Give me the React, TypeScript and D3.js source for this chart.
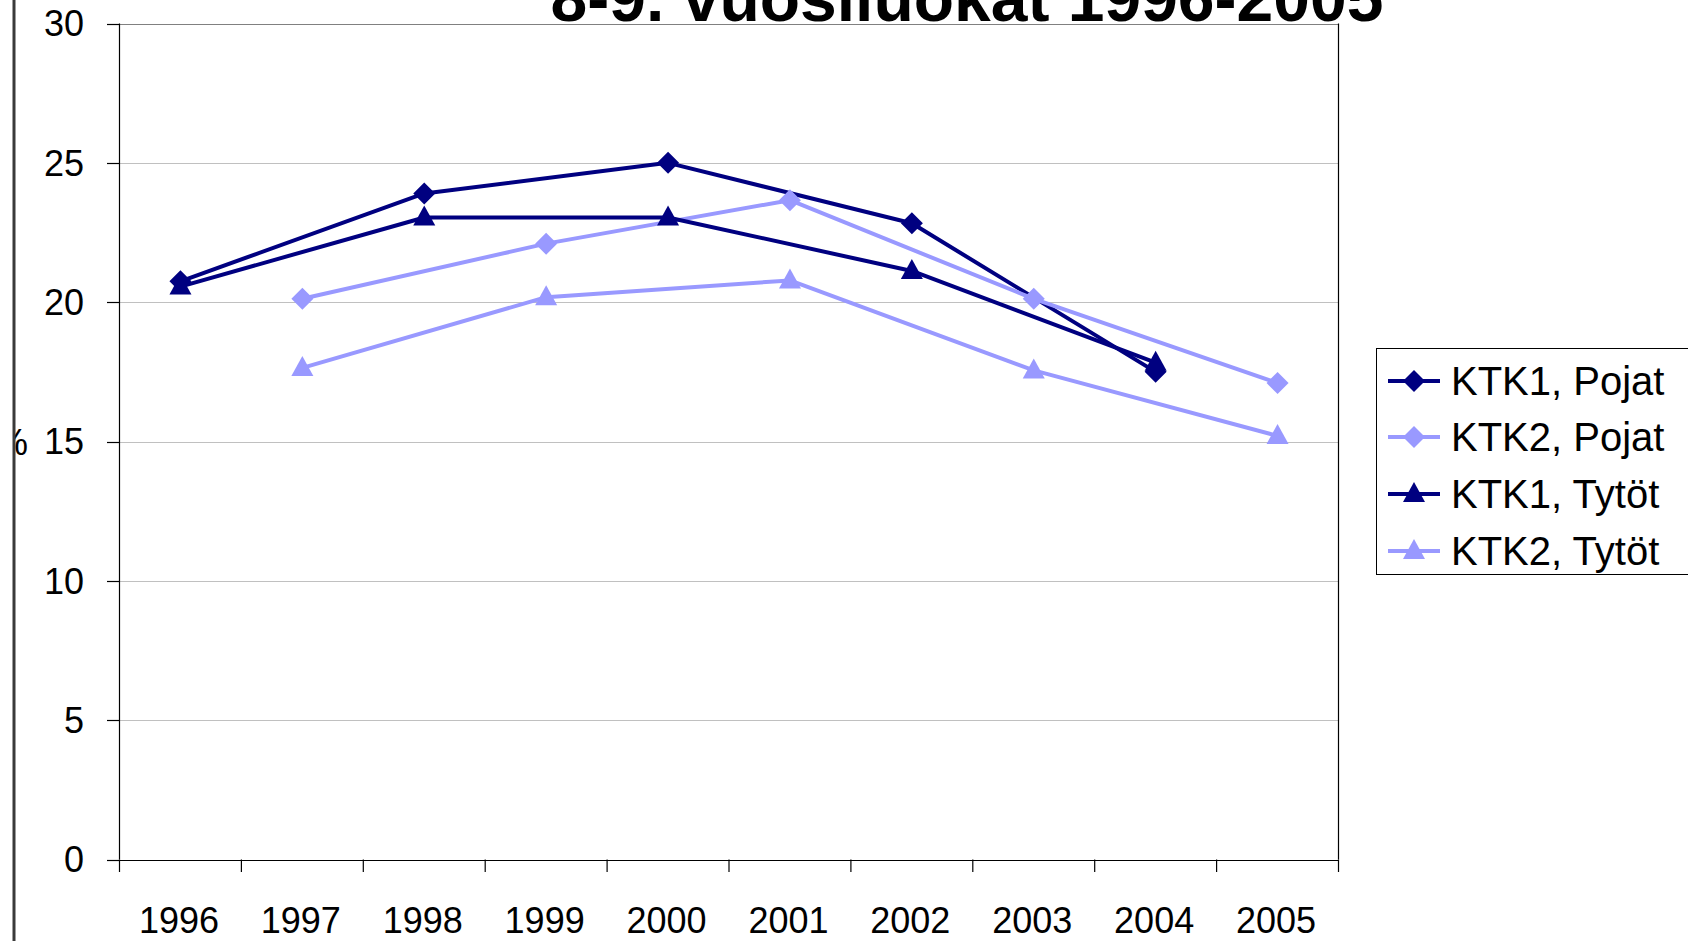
import React from 'react';
import * as d3 from 'd3';

const years = ['1996', '1997', '1998', '1999', '2000', '2001', '2002', '2003', '2004', '2005'];
const yTicks = [0, 5, 10, 15, 20, 25, 30];
const ktk1Pojat = [20.75, null, 23.9, null, 25.0, null, 22.83, null, 17.5, null];
const ktk2Pojat = [null, 20.12, null, 22.1, null, 23.66, null, 20.12, null, 17.1];
const ktk1Tytot = [20.56, null, 23.04, null, 23.04, null, 21.12, null, 17.83, null];
const ktk2Tytot = [null, 17.64, null, 20.18, null, 20.78, null, 17.55, null, 15.2];

const seriesNames = ['KTK1, Pojat', 'KTK2, Pojat', 'KTK1, Tytöt', 'KTK2, Tytöt'];
const seriesValues = [ktk1Pojat, ktk2Pojat, ktk1Tytot, ktk2Tytot];
const seriesColors = ['#000080', '#9999FF', '#000080', '#9999FF'];
const seriesMarkers = ['diamond', 'diamond', 'triangle', 'triangle'];

const title = '8-9. vuosiluokat 1996-2005';
const yTitle = '%';

const FONT = '"Liberation Sans", Arial, sans-serif';

function markerPath(kind: string) {
  if (kind === 'diamond') return 'M0,-11L11,0L0,11L-11,0Z';
  return 'M0,-12L11,8L-11,8Z';
}

export default function App() {
  const W = 1688, H = 941;
  const x = d3.scaleBand<string>().domain(years).range([119.5, 1338.5]).padding(0);
  const y = d3.scaleLinear().domain([0, 30]).range([859.5, 23.5]);
  const bw = x.bandwidth();
  const boundaries = years.map((yr) => x(yr) as number).concat([1338.5]);

  const line = d3
    .line<{ yr: string; v: number }>()
    .x((d) => (x(d.yr) as number) + bw / 2)
    .y((d) => y(d.v));

  const legendY = [381, 437, 494, 551];

  return (
    <svg
      width={W}
      height={H}
      style={{ position: 'absolute', left: 0, top: 0, background: '#fff' }}
      fontFamily={FONT}
    >
      <defs>
        <clipPath id="pctClip">
          <rect x={15} y={0} width={100} height={H} />
        </clipPath>
      </defs>
      <rect x={0} y={0} width={W} height={H} fill="#fff" />
      {/* gridlines */}
      {yTicks.map((t) => (
        <line
          key={'g' + t}
          x1={119.5}
          x2={1338.5}
          y1={Math.round(y(t)) + 0.5}
          y2={Math.round(y(t)) + 0.5}
          stroke={t === 0 ? '#000' : '#808080'}
          strokeWidth={1}
          strokeDasharray={t === 0 || t === 30 ? undefined : '1,1'}
        />
      ))}
      {/* plot border left/right */}
      <line x1={119.5} x2={119.5} y1={23.5} y2={859.5} stroke="#000" strokeWidth={1.2} />
      <line x1={1338.5} x2={1338.5} y1={23.5} y2={859.5} stroke="#000" strokeWidth={1.2} />
      {/* y ticks & labels */}
      {yTicks.map((t) => (
        <g key={'yt' + t}>
          <line x1={107} x2={119.5} y1={Math.round(y(t)) + 0.5} y2={Math.round(y(t)) + 0.5} stroke="#000" strokeWidth={1.2} />
          <text x={84} y={y(t)} dy="0.36em" textAnchor="end" fontSize={36} fill="#000">
            {t}
          </text>
        </g>
      ))}
      {/* x ticks & labels */}
      {boundaries.map((b, i) => (
        <line key={'xt' + i} x1={b} x2={b} y1={859.5} y2={872} stroke="#000" strokeWidth={1.2} />
      ))}
      {years.map((yr) => (
        <text key={'xl' + yr} x={(x(yr) as number) + bw / 2 - 1.5} y={920} dy="0.36em" textAnchor="middle" fontSize={36} fill="#000">
          {yr}
        </text>
      ))}
      {/* series */}
      {seriesValues.map((vals, si) => {
        const pts = vals
          .map((v, i) => ({ yr: years[i], v: v as number }))
          .filter((d, i) => vals[i] !== null);
        return (
          <g key={'s' + si}>
            <path d={line(pts) || ''} fill="none" stroke={seriesColors[si]} strokeWidth={4} strokeLinejoin="round" />
            {pts.map((p) => (
              <path
                key={p.yr}
                d={markerPath(seriesMarkers[si])}
                transform={`translate(${(x(p.yr) as number) + bw / 2},${y(p.v)})`}
                fill={seriesColors[si]}
              />
            ))}
          </g>
        );
      })}
      {/* title */}
      <text x={967} y={21} textAnchor="middle" fontSize={66} fontWeight="bold" fill="#000">
        {title}
      </text>
      {/* legend */}
      <rect x={1376.5} y={348.5} width={400} height={226} fill="#fff" stroke="#000" strokeWidth={1} />
      {seriesNames.map((n, i) => (
        <g key={'lg' + i}>
          <line x1={1388} x2={1440} y1={legendY[i]} y2={legendY[i]} stroke={seriesColors[i]} strokeWidth={4} />
          <path d={markerPath(seriesMarkers[i])} transform={`translate(1414,${legendY[i]})`} fill={seriesColors[i]} />
          <text x={1451} y={legendY[i]} dy="0.36em" fontSize={40} fill="#000">
            {n}
          </text>
        </g>
      ))}
      {/* y axis title */}
      <text x={12} y={442} dy="0.36em" textAnchor="middle" fontSize={36} fill="#000" clipPath="url(#pctClip)">
        {yTitle}
      </text>
      {/* left frame line */}
      <line x1={14} x2={14} y1={0} y2={H} stroke="#3a3a3a" strokeWidth={3} />
    </svg>
  );
}
